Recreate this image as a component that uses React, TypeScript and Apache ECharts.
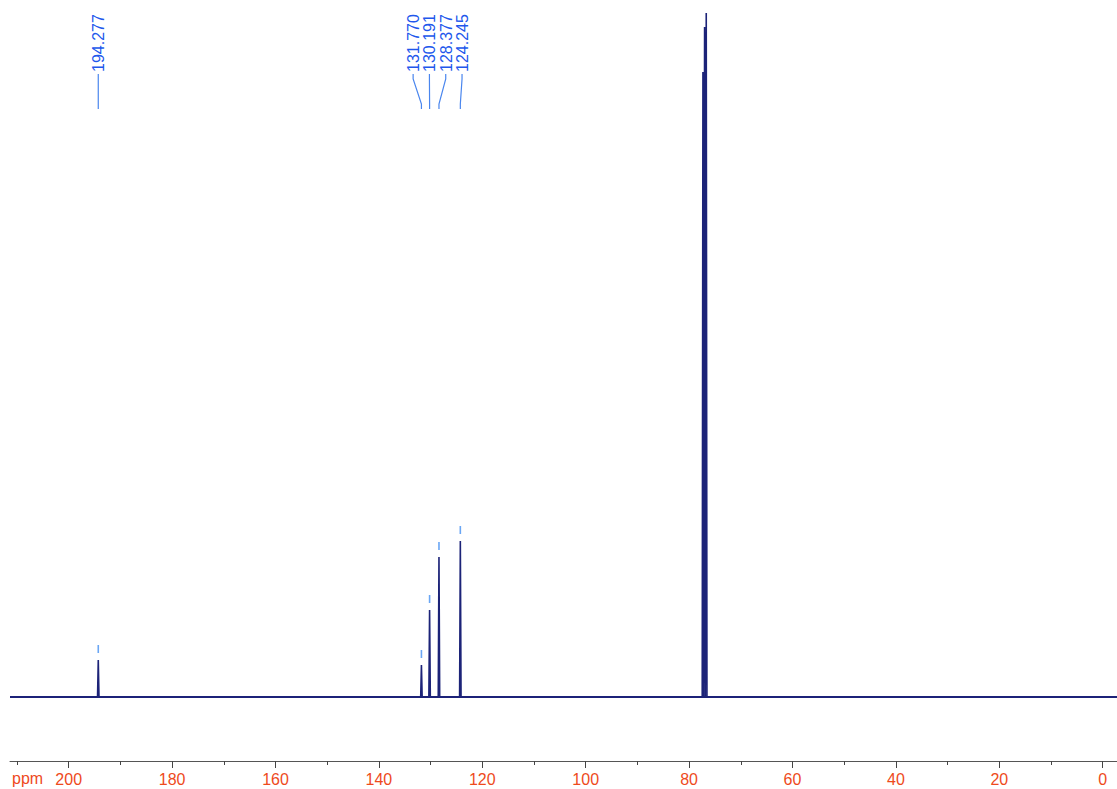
import React, { useEffect, useRef } from "react";
import * as echarts from "echarts";

// ---- data ----
const peakPpm = [194.277, 131.77, 130.191, 128.377, 124.245, 77.32, 77.0, 76.68];
const peakHeight = [37, 32, 87, 140, 156, 625, 670, 684];
const labeledPpm = [194.277, 131.77, 130.191, 128.377, 124.245];
const labeledText = ["194.277", "131.770", "130.191", "128.377", "124.245"];
const majorTicks = [0, 20, 40, 60, 80, 100, 120, 140, 160, 180, 200];
const minorTicks = [10, 30, 50, 70, 90, 110, 130, 150, 170, 190, 210];
const ppmMin = -2.77;
const ppmMax = 211.35;
const intensityMin = -64;
const intensityMax = 697;

const FONT = "'Liberation Sans', Arial, Helvetica, sans-serif";
const SPEC_COLOR = "#1c2378";
const LABEL_COLOR = "#2157ec";
const LINK_COLOR = "#4a86ee";
const DASH_COLOR = "#6aa6f4";
const AXIS_LABEL_COLOR = "#ee4a1c";

function buildSpectrum(): number[][] {
  const hw = 0.14;
  const order = peakPpm.map((p, i) => i).sort((a, b) => peakPpm[b] - peakPpm[a]);
  const pts: number[][] = [[ppmMax, 0]];
  order.forEach((i) => {
    const p = peakPpm[i];
    pts.push([p + hw, 0], [p, peakHeight[i]], [p - hw, 0]);
  });
  pts.push([ppmMin, 0]);
  return pts;
}

function spreadLabels(xs: number[], spacing: number): number[] {
  const idx = xs.map((_, i) => i).sort((a, b) => xs[a] - xs[b]);
  type G = { members: number[]; center: number };
  let groups: G[] = [];
  idx.forEach((i) => {
    groups.push({ members: [i], center: xs[i] });
    let merged = true;
    while (merged && groups.length > 1) {
      merged = false;
      const b = groups[groups.length - 1];
      const a = groups[groups.length - 2];
      const aEnd = a.center + ((a.members.length - 1) / 2) * spacing;
      const bStart = b.center - ((b.members.length - 1) / 2) * spacing;
      if (bStart - aEnd < spacing) {
        const members = a.members.concat(b.members);
        const center = members.reduce((s, m) => s + xs[m], 0) / members.length;
        groups.splice(groups.length - 2, 2, { members, center });
        merged = true;
      }
    }
  });
  const out = new Array(xs.length).fill(0);
  groups.forEach((g) => {
    g.members.forEach((m, k) => {
      out[m] = g.center + (k - (g.members.length - 1) / 2) * spacing;
    });
  });
  return out;
}

export default function App() {
  const ref = useRef<HTMLDivElement>(null);
  useEffect(() => {
    if (!ref.current) return;
    const chart = echarts.init(ref.current, undefined, { renderer: "svg" });
    const axisCommon = {
      type: "value" as const,
      min: ppmMin,
      max: ppmMax,
      inverse: true,
      position: "bottom" as const,
      splitLine: { show: false },
    };
    chart.setOption({
      animation: false,
      backgroundColor: "#ffffff",
      grid: { left: 10, right: 0, top: 0, bottom: 28, containLabel: false },
      xAxis: [
        {
          ...axisCommon,
          axisLine: { show: true, onZero: false, lineStyle: { color: "#555555", width: 1 } },
          axisTick: {
            show: true,
            inside: false,
            length: 7,
            customValues: majorTicks,
            lineStyle: { color: "#444444", width: 1 },
          },
          axisLabel: {
            show: true,
            customValues: majorTicks,
            margin: 10,
            color: AXIS_LABEL_COLOR,
            fontSize: 16,
            fontFamily: FONT,
          },
        },
        {
          ...axisCommon,
          axisLine: { show: false, onZero: false },
          axisTick: {
            show: true,
            inside: false,
            length: 4,
            customValues: minorTicks,
            lineStyle: { color: "#444444", width: 1 },
          },
          axisLabel: { show: false },
        },
      ],
      yAxis: {
        type: "value",
        min: intensityMin,
        max: intensityMax,
        show: false,
        splitLine: { show: false },
      },
      series: [
        {
          type: "line",
          xAxisIndex: 0,
          data: [
            [ppmMax, 0],
            [ppmMin, 0],
          ],
          showSymbol: false,
          symbol: "none",
          lineStyle: { color: SPEC_COLOR, width: 2.2 },
          silent: true,
        },
        {
          type: "line",
          xAxisIndex: 0,
          data: buildSpectrum(),
          showSymbol: false,
          symbol: "none",
          lineStyle: { color: SPEC_COLOR, width: 1.6 },
          silent: true,
        },
      ],
    });

    const peakX = labeledPpm.map((p) => chart.convertToPixel({ xAxisIndex: 0 }, p) as number);
    const peakTop = labeledPpm.map((p) => {
      const i = peakPpm.indexOf(p);
      return chart.convertToPixel({ yAxisIndex: 0 }, peakHeight[i]) as number;
    });
    const labelX = spreadLabels(peakX, 16.3);

    const graphics: any[] = [];
    labeledPpm.forEach((_, i) => {
      const lx = labelX[i];
      const px = peakX[i];
      graphics.push({
        type: "text",
        x: lx + 0.5,
        y: 43,
        rotation: Math.PI / 2,
        style: {
          text: labeledText[i],
          fill: LABEL_COLOR,
          font: `16px ${FONT}`,
          align: "center",
          verticalAlign: "middle",
        },
        silent: true,
      });
      graphics.push({
        type: "polyline",
        shape: {
          points: [
            [lx, 74],
            [lx, 79],
            [px, 104],
            [px, 109],
          ],
        },
        style: { stroke: LINK_COLOR, lineWidth: 1.2, fill: null },
        silent: true,
      });
      graphics.push({
        type: "line",
        shape: { x1: px, y1: peakTop[i] - 15, x2: px, y2: peakTop[i] - 7 },
        style: { stroke: DASH_COLOR, lineWidth: 1.6 },
        silent: true,
      });
    });
    graphics.push({
      type: "text",
      x: 12,
      y: 778,
      style: {
        text: "ppm",
        fill: AXIS_LABEL_COLOR,
        font: `16px ${FONT}`,
        align: "left",
        verticalAlign: "middle",
      },
      silent: true,
    });
    chart.setOption({ graphic: graphics });

    return () => chart.dispose();
  }, []);
  return (
    <div
      ref={ref}
      style={{ position: "absolute", left: 0, top: 0, width: 1117, height: 789 }}
    />
  );
}
